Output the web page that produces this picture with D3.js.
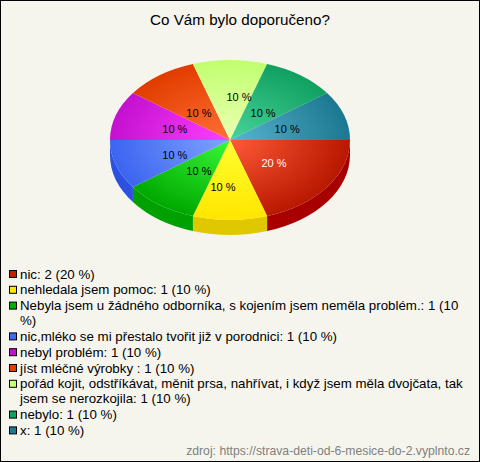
<!DOCTYPE html>
<html><head><meta charset="utf-8">
<script src="https://cdn.jsdelivr.net/npm/d3@7/dist/d3.min.js"></script>
<style>html,body{margin:0;padding:0;background:#f5f5ee}svg{display:block}text{font-family:"Liberation Sans",Arial,sans-serif}</style>
</head><body><svg id="c" width="480" height="462"></svg>
<script>
const categories=["nic","nehledala jsem pomoc","Nebyla jsem u žádného odborníka, s kojením jsem neměla problém.","nic,mléko se mi přestalo tvořit již v porodnici","nebyl problém","jíst mléčné výrobky ","pořád kojit, odstříkávat, měnit prsa, nahřívat, i když jsem měla dvojčata, tak jsem se nerozkojila","nebylo","x"];
const values=[2,1,1,1,1,1,1,1,1];
const legendLines=[["nic: 2 (20 %)"],["nehledala jsem pomoc: 1 (10 %)"],["Nebyla jsem u žádného odborníka, s kojením jsem neměla problém.: 1 (10","%)"],["nic,mléko se mi přestalo tvořit již v porodnici: 1 (10 %)"],["nebyl problém: 1 (10 %)"],["jíst mléčné výrobky : 1 (10 %)"],["pořád kojit, odstříkávat, měnit prsa, nahřívat, i když jsem měla dvojčata, tak","jsem se nerozkojila: 1 (10 %)"],["nebylo: 1 (10 %)"],["x: 1 (10 %)"]];
const colorCenter=["#ff5a38","#ffff30","#38f838","#80a4ff","#ff40ff","#ff7034","#ecffb4","#48d49c","#58b4d0"];
const colorEdge=["#b81800","#ffe600","#00a800","#3c64f0","#c410d0","#e23c00","#c0ff70","#10a060","#1c7890"];
const colorSide=["#a80000","#e0c800","#00a000","#2c50e0","#a000b0","#c03000","#a0e060","#088050","#105870"];
const colorSwatch=["#c02000","#ffe800","#00b000","#4068f0","#c010d0","#e04000","#c8ff78","#10a060","#207890"];
const labelNudge=[[-4,-2],[-8,6],[2,-2],[-1,1],[-1,-1],[2,2],[8,-6],[-2,2],[1,-1]];
const title="Co Vám bylo doporučeno?";
const credit="zdroj: https://strava-deti-od-6-mesice-do-2.vyplnto.cz";

const W=480,H=462,cx=230,cy=140,rx=120,squash=2/3,depth=15;
const svg=d3.select("#c");
svg.append("rect").attr("x",.5).attr("y",.5).attr("width",W-1).attr("height",H-1).attr("fill","#f5f5ee").attr("stroke","#000");
svg.append("text").attr("x",W/2).attr("y",25).attr("text-anchor","middle").attr("font-size",15.2).text(title);

const defs=svg.append("defs");
categories.forEach((c,i)=>{
  const g=defs.append("radialGradient").attr("id","g"+i).attr("gradientUnits","userSpaceOnUse").attr("cx",0).attr("cy",0).attr("r",rx);
  g.append("stop").attr("offset",0).attr("stop-color",colorCenter[i]);
  g.append("stop").attr("offset",1).attr("stop-color",colorEdge[i]);
});
const pie=d3.pie().sort(null).startAngle(Math.PI/2).endAngle(Math.PI/2+2*Math.PI);
const arcs=pie(values);
const ry=rx*squash;
const px=a=>cx+rx*Math.sin(a), py=a=>cy-ry*Math.cos(a);
const sideG=svg.append("g");
arcs.forEach((d,i)=>{
  const a0=Math.max(d.startAngle,Math.PI/2),a1=Math.min(d.endAngle,3*Math.PI/2);
  if(a1<=a0)return;
  const p=`M${px(a0)},${py(a0)}A${rx},${ry} 0 0 1 ${px(a1)},${py(a1)}L${px(a1)},${py(a1)+depth}A${rx},${ry} 0 0 0 ${px(a0)},${py(a0)+depth}Z`;
  sideG.append("path").attr("d",p).attr("fill",colorSide[i]);
});
const topG=svg.append("g").attr("transform",`translate(${cx},${cy}) scale(1,${squash})`);
const arc=d3.arc().innerRadius(0).outerRadius(rx);
topG.selectAll("path").data(arcs).join("path").attr("d",arc).attr("fill",(d,i)=>`url(#g${i})`);

const total=d3.sum(values),lr=58;
svg.append("g").selectAll("text").data(arcs).join("text")
  .attr("x",(d,i)=>{const a=(d.startAngle+d.endAngle)/2;return cx+1+lr*Math.sin(a)+labelNudge[i][0];})
  .attr("y",(d,i)=>{const a=(d.startAngle+d.endAngle)/2;return cy+2-lr*squash*Math.cos(a)+labelNudge[i][1];})
  .attr("dy","0.35em").attr("text-anchor","middle").attr("font-size",11)
  .attr("fill",(d,i)=>i===0?"#fff":"#000")
  .text(d=>Math.round(d.value/total*100)+" %");

const leg=svg.append("g");
let y=274;
legendLines.forEach((lines,i)=>{
  leg.append("rect").attr("x",9.5).attr("y",y-3.5).attr("width",7).attr("height",7).attr("fill",colorSwatch[i]).attr("stroke","#000");
  lines.forEach((t,j)=>{
    leg.append("text").attr("x",20).attr("y",y+j*15+4.5).attr("font-size",13.3).text(t);
  });
  y+=15.8+(lines.length-1)*15;
});
svg.append("text").attr("x",470).attr("y",455).attr("text-anchor","end").attr("font-size",12.2).attr("fill","#808080").text(credit);
</script></body></html>
